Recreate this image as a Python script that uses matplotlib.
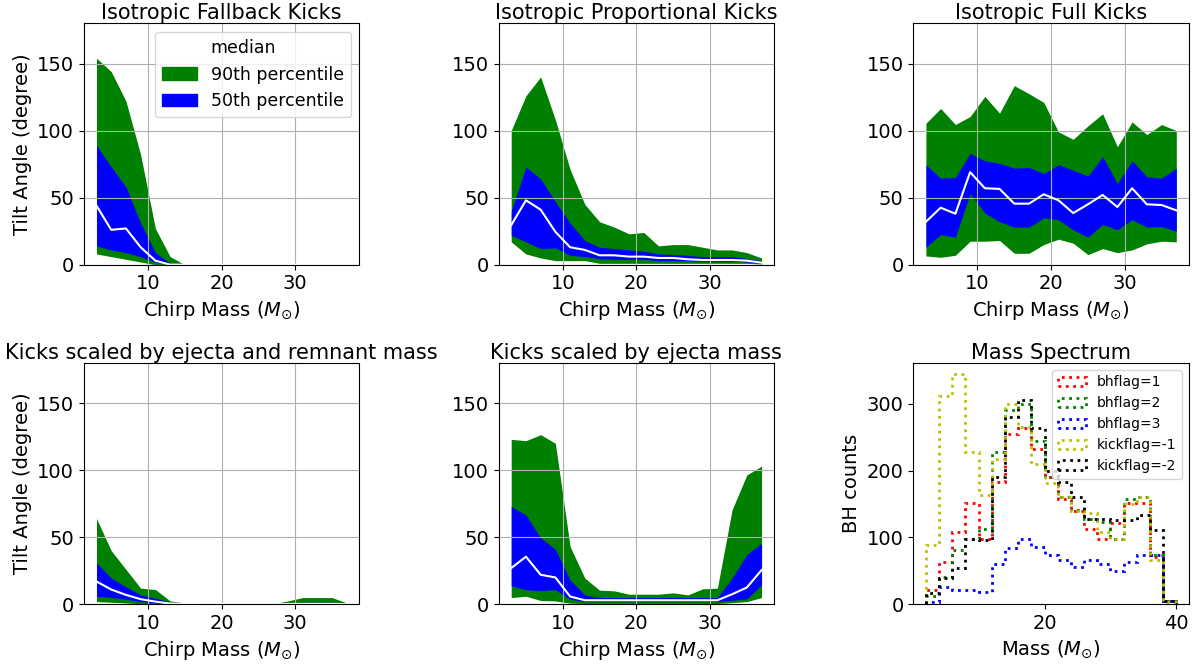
import numpy as np
import matplotlib
matplotlib.use("Agg")
import matplotlib.pyplot as plt
from matplotlib.lines import Line2D
from matplotlib.patches import Patch

# =========================
# DATA
# =========================

chirp_mass = [3, 5, 7, 9, 11, 13, 15, 17, 19, 21, 23, 25, 27, 29, 31, 33, 35, 37]

# Isotropic Fallback Kicks
fb_p90_hi = [154, 144, 122, 82, 27, 6, 0, 0, 0, 0, 0, 0, 0, 0, 0, 0, 0, 0]
fb_p50_hi = [89, 73, 58, 31, 9, 1, 0, 0, 0, 0, 0, 0, 0, 0, 0, 0, 0, 0]
fb_median = [44, 26, 27, 13, 3, 0, 0, 0, 0, 0, 0, 0, 0, 0, 0, 0, 0, 0]
fb_p50_lo = [14, 11, 9, 6, 2, 0, 0, 0, 0, 0, 0, 0, 0, 0, 0, 0, 0, 0]
fb_p90_lo = [8, 6, 4, 2, 0, 0, 0, 0, 0, 0, 0, 0, 0, 0, 0, 0, 0, 0]

# Isotropic Proportional Kicks
pr_p90_hi = [100, 126, 140, 108, 71, 45, 32, 28, 23, 24, 14, 15, 15, 13, 11, 11, 9, 5]
pr_p50_hi = [40, 73, 64, 47, 31, 18, 13, 12, 11, 10, 8, 7.5, 7, 6, 6, 6, 4.5, 3]
pr_median = [29.5, 48, 41, 24.5, 13, 11, 7, 7, 6, 6, 5, 5, 4, 3.5, 3.5, 3.5, 3, 1.5]
pr_p50_lo = [22, 17, 12, 12.5, 7, 6, 4.5, 4, 4, 4, 3, 3, 3, 2.5, 2.5, 2.5, 2, 1]
pr_p90_lo = [17, 8, 5, 3, 3, 3, 1, 1, 1, 1, 1, 1, 1, 1, 1, 1, 1, 0.5]

# Isotropic Full Kicks
fu_p90_hi = [105.5, 116.5, 104.5, 110.5, 125.5, 113, 133.5, 127.5, 121, 99, 93.5, 103.5,
             112.5, 88, 106.5, 97, 104.5, 100]
fu_p50_hi = [74.5, 64.5, 65, 83, 77.5, 75.5, 72, 72.5, 68, 74.5, 70.5, 66, 80.5, 60.5,
             77.5, 65.5, 64.5, 72]
fu_median = [32, 42.5, 38, 69, 57, 56.5, 45.5, 45.5, 52.5, 48, 38.5, 45, 52, 43, 57, 45,
             44.5, 40.5]
fu_p50_lo = [13, 22.5, 20.5, 53, 38.5, 32, 28, 28, 35, 33.5, 26, 20.5, 30, 26, 33.5, 28,
             28.5, 25]
fu_p90_lo = [6.5, 5.5, 7, 17.5, 17.5, 18, 8.5, 8.5, 15, 19, 16, 7.5, 12, 9, 11, 15.5,
             17.5, 17]

# Kicks scaled by ejecta and remnant mass
er_p90_hi = [64, 40, 26, 12, 11, 2.5, 1, 0.5, 0.5, 0.5, 0.5, 0.5, 0.5, 2.5, 5, 5, 5, 1]
er_p50_hi = [31, 19.5, 13, 7, 4.5, 1.5, 0.3, 0.2, 0.2, 0.2, 0.2, 0.2, 0.3, 0.8, 1.5, 1.5,
             1.5, 0.3]
er_median = [17, 11, 7, 3.8, 2, 0.5, 0.2, 0.2, 0.1, 0.1, 0.1, 0.1, 0.1, 0.2, 0.3, 0.3,
             0.3, 0.1]
er_p50_lo = [6, 5, 3.8, 2, 0.8, 0.2, 0, 0, 0, 0, 0, 0, 0, 0, 0, 0, 0, 0]
er_p90_lo = [2, 1.5, 1, 0.3, 0, 0, 0, 0, 0, 0, 0, 0, 0, 0, 0, 0, 0, 0]

# Kicks scaled by ejecta mass
ej_p90_hi = [123, 122, 126.5, 120, 43, 19.5, 10.5, 10, 7.5, 7.5, 7.5, 8.5, 7, 11.5, 12,
             70.5, 96.5, 103]
ej_p50_hi = [73, 66.5, 49.5, 41, 18, 7, 5, 5, 5, 5, 5, 5, 5, 5, 5, 19.5, 37, 45.5]
ej_median = [27, 35.5, 22, 20, 5.8, 3, 3, 3, 3, 3, 3, 3, 3, 3, 3, 7.5, 12.5, 25.5]
ej_p50_lo = [13.8, 10.8, 10.2, 10.8, 3.8, 2, 2, 2, 2, 2, 2, 2, 2, 2, 2, 3, 4, 14.5]
ej_p90_lo = [5, 6, 2.8, 2.5, 0.8, 0.5, 0.5, 0.5, 0.5, 0.5, 0.5, 0.5, 0.5, 0.5, 0.5, 1.2,
             2, 5]

# Mass spectrum (bin edges and counts per bin)
mass_edges = [2, 4, 6, 8, 10, 12, 14, 16, 18, 20, 22, 24, 26, 28, 30, 32, 34, 36, 38, 40]
bhflag1 = [21, 63, 108, 151, 97, 183, 255, 264, 233, 190, 158, 140, 112, 98, 122, 152, 152, 71, 5]
bhflag2 = [12, 41, 81, 97, 112, 228, 291, 300, 245, 190, 160, 141, 128, 123, 98, 158, 161, 74, 5]
bhflag3 = [4, 26, 22, 22, 18, 61, 84, 97, 85, 73, 67, 56, 67, 60, 50, 63, 73, 74, 5]
kickflag_m1 = [88, 312, 344, 228, 163, 218, 299, 265, 210, 182, 160, 140, 137, 108, 97, 150, 160, 66, 4]
kickflag_m2 = [17, 40, 54, 98, 96, 191, 281, 306, 264, 200, 183, 160, 128, 128, 126, 126, 133, 111, 5]

panels = [
    ("Isotropic Fallback Kicks", fb_p90_lo, fb_p90_hi, fb_p50_lo, fb_p50_hi, fb_median),
    ("Isotropic Proportional Kicks", pr_p90_lo, pr_p90_hi, pr_p50_lo, pr_p50_hi, pr_median),
    ("Isotropic Full Kicks", fu_p90_lo, fu_p90_hi, fu_p50_lo, fu_p50_hi, fu_median),
    ("Kicks scaled by ejecta and remnant mass", er_p90_lo, er_p90_hi, er_p50_lo, er_p50_hi, er_median),
    ("Kicks scaled by ejecta mass", ej_p90_lo, ej_p90_hi, ej_p50_lo, ej_p50_hi, ej_median),
]

# =========================
# FIGURE
# =========================

plt.rcParams["font.size"] = 14

fig, axes = plt.subplots(2, 3, figsize=(12.03, 6.68), dpi=100)
fig.subplots_adjust(left=0.0698, right=0.9882, bottom=0.0954, top=0.9651,
                    wspace=0.506, hspace=0.407)
axes = axes.flatten()

for i, (title, lo90, hi90, lo50, hi50, med) in enumerate(panels):
    ax = axes[i]
    ax.fill_between(chirp_mass, lo90, hi90, color="green", linewidth=0)
    ax.fill_between(chirp_mass, lo50, hi50, color="blue", linewidth=0)
    ax.plot(chirp_mass, med, color="white", linewidth=1.5)
    ax.set_title(title, fontsize=15, pad=2)
    ax.set_ylim(0, 180)
    ax.set_yticks([0, 50, 100, 150])
    ax.set_xticks([10, 20, 30])
    ax.grid(True)
    ax.set_xlabel(r"Chirp Mass ($M_{\odot}$)")
    if i % 3 == 0:
        ax.set_ylabel("Tilt Angle (degree)")
    if i == 0:
        handles = [Line2D([], [], color="white", linewidth=1.5),
                   Patch(color="green"), Patch(color="blue")]
        ax.legend(handles, ["median", "90th percentile", "50th percentile"],
                  loc="upper right", fontsize=12.5)

# mass spectrum
ax = axes[5]
centers = [(a + b) / 2 for a, b in zip(mass_edges[:-1], mass_edges[1:])]
series = [(bhflag1, "r", "bhflag=1"), (bhflag2, "g", "bhflag=2"),
          (bhflag3, "b", "bhflag=3"), (kickflag_m1, "y", "kickflag=-1"),
          (kickflag_m2, "k", "kickflag=-2")]
for counts, col, lab in series:
    ax.hist(centers, bins=mass_edges, weights=counts, histtype="step",
            linestyle=":", linewidth=2, color=col, label=lab)
ax.set_title("Mass Spectrum", fontsize=15, pad=2)
ax.set_xlabel(r"Mass ($M_{\odot}$)")
ax.set_ylabel("BH counts")
ax.set_xticks([20, 40])
ax.legend(loc="upper right", fontsize=10)

plt.savefig("out.png", dpi=100)
